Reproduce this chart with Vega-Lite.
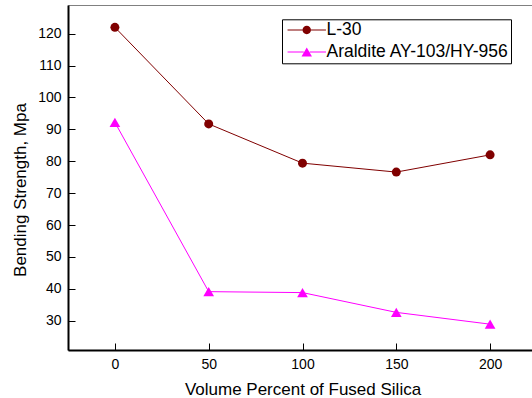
{
  "$schema": "https://vega.github.io/schema/vega-lite/v6.json",
  "width": 469,
  "height": 345,
  "autosize": {"type": "none"},
  "padding": {"left": 68, "top": 5, "right": 0, "bottom": 48},
  "background": "white",
  "config": {
    "font": "Liberation Sans",
    "view": {"stroke": "#808080", "strokeWidth": 1},
    "axis": {
      "grid": false,
      "domainColor": "#000000",
      "domainWidth": 2,
      "tickColor": "#000000",
      "tickWidth": 1,
      "tickSize": -7,
      "labelFont": "Liberation Sans",
      "labelFontSize": 14,
      "labelColor": "#000000",
      "titleFont": "Liberation Sans",
      "titleFontSize": 17,
      "titleFontWeight": "normal",
      "titleColor": "#000000"
    },
    "legend": {
      "title": null,
      "orient": "none",
      "legendX": 214,
      "legendY": 14.3,
      "padding": 2,
      "symbolOffset": 14,
      "symbolSize": 144,
      "symbolOpacity": 1,
      "labelOffset": 11,
      "labelFont": "Liberation Sans",
      "labelFontSize": 17.5,
      "labelColor": "#000000",
      "labelLimit": 400,
      "rowPadding": 3,
      "strokeColor": "#000000",
      "fillColor": "#ffffff",
      "cornerRadius": 0
    }
  },
  "data": {
    "values": [
      {"silica": 0, "strength": 122, "series": "L-30"},
      {"silica": 50, "strength": 91.7, "series": "L-30"},
      {"silica": 100, "strength": 79.4, "series": "L-30"},
      {"silica": 150, "strength": 76.6, "series": "L-30"},
      {"silica": 200, "strength": 82, "series": "L-30"},
      {"silica": 0, "strength": 92.2, "series": "Araldite AY-103/HY-956"},
      {"silica": 50, "strength": 39.1, "series": "Araldite AY-103/HY-956"},
      {"silica": 100, "strength": 38.8, "series": "Araldite AY-103/HY-956"},
      {"silica": 150, "strength": 32.6, "series": "Araldite AY-103/HY-956"},
      {"silica": 200, "strength": 28.9, "series": "Araldite AY-103/HY-956"}
    ]
  },
  "encoding": {
    "x": {
      "field": "silica",
      "type": "quantitative",
      "scale": {"domain": [-25, 225], "nice": false, "zero": false},
      "axis": {
        "values": [0, 50, 100, 150, 200],
        "title": "Volume Percent of Fused Silica",
        "labelPadding": 14,
        "titleBaseline": "top",
        "titleY": 31
      }
    },
    "y": {
      "field": "strength",
      "type": "quantitative",
      "scale": {"domain": [20.8, 129], "nice": false, "zero": false},
      "axis": {
        "values": [30, 40, 50, 60, 70, 80, 90, 100, 110, 120],
        "title": "Bending Strength, Mpa",
        "labelPadding": 14,
        "titleX": -48,
        "titleY": 184.5,
        "titleBaseline": "middle"
      }
    }
  },
  "layer": [
    {
      "mark": {"type": "line", "strokeWidth": 1},
      "encoding": {
        "color": {
          "field": "series",
          "type": "nominal",
          "scale": {"domain": ["L-30", "Araldite AY-103/HY-956"], "range": ["#800000", "#FF00FF"]},
          "legend": null
        }
      }
    },
    {
      "mark": {"type": "point", "filled": true, "opacity": 1},
      "encoding": {
        "color": {
          "field": "series",
          "type": "nominal",
          "scale": {"domain": ["L-30", "Araldite AY-103/HY-956"], "range": ["#800000", "#FF00FF"]},
          "legend": null
        },
        "shape": {
          "field": "series",
          "type": "nominal",
          "scale": {"domain": ["L-30", "Araldite AY-103/HY-956"], "range": ["circle", "triangle-up"]},
          "legend": null
        },
        "size": {
          "field": "series",
          "type": "nominal",
          "scale": {"domain": ["L-30", "Araldite AY-103/HY-956"], "range": [81, 114]},
          "legend": null
        }
      }
    },
    {
      "mark": {"type": "point", "filled": true, "opacity": 0},
      "encoding": {
        "color": {
          "field": "series",
          "type": "nominal",
          "scale": {"domain": ["L-30", "Araldite AY-103/HY-956"], "range": ["#800000", "#FF00FF"]},
          "legend": {}
        },
        "shape": {
          "field": "series",
          "type": "nominal",
          "scale": {
            "domain": ["L-30", "Araldite AY-103/HY-956"],
            "range": [
              "M-3.2,-0.08L-0.66,-0.08L-0.66,0.08L-3.2,0.08ZM0.66,-0.08L3.2,-0.08L3.2,0.08L0.66,0.08ZM0.7,0A0.7,0.7,0,1,1,-0.7,0A0.7,0.7,0,1,1,0.7,0Z",
              "M-3.2,-0.08L-0.5,-0.08L-0.5,0.08L-3.2,0.08ZM0.5,-0.08L3.2,-0.08L3.2,0.08L0.5,0.08ZM0,-0.75L0.87,0.75L-0.87,0.75Z"
            ]
          },
          "legend": {}
        }
      }
    }
  ],
  "resolve": {"scale": {"shape": "independent", "color": "independent"}}
}
